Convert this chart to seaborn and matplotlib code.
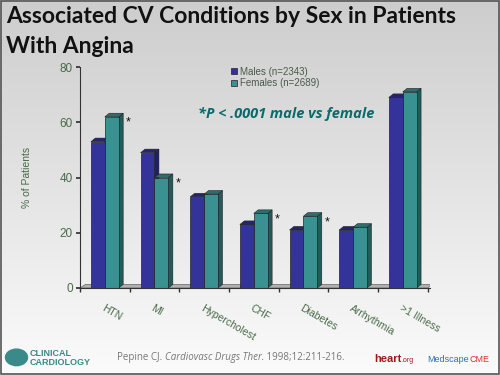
import numpy as np
import pandas as pd
import matplotlib
matplotlib.use("Agg")
import matplotlib.pyplot as plt
from matplotlib.patches import Polygon, Rectangle
from matplotlib.colors import LinearSegmentedColormap
import seaborn as sns

categories = ["HTN", "MI", "Hypercholest", "CHF", "Diabetes", "Arrhythmia", ">1 Illness"]
males = [53, 49, 33, 23, 21, 21, 69]
females = [62, 40, 34, 27, 26, 22, 71]
significant = [True, True, False, True, True, False, False]
series_names = ["Males (n=2343)", "Females (n=2689)"]
yticks = [0, 20, 40, 60, 80]

colors = {"Males (n=2343)": "#333399", "Females (n=2689)": "#3a9191"}
side_colors = ["#1f1f66", "#235a5a"]
top_colors = ["#25256f", "#2c6e6e"]

df = pd.DataFrame({
    "Condition": categories * 2,
    "Sex": [series_names[0]] * len(categories) + [series_names[1]] * len(categories),
    "Percent": males + females,
})

sns.set_theme(style="white")
plt.rcParams["font.family"] = ["Liberation Sans", "DejaVu Sans"]

fig = plt.figure(figsize=(5, 3.75), dpi=100)

# background gradient
bg = fig.add_axes([0, 0, 1, 1], zorder=-10)
grad = np.linspace(0, 1, 256).reshape(-1, 1)
cmap = LinearSegmentedColormap.from_list("g", ["#cdcdcd", "#fbfbfb"])
bg.imshow(grad, aspect="auto", cmap=cmap, extent=[0, 1, 0, 1], origin="upper")
bg.set_xlim(0, 1); bg.set_ylim(0, 1)
bg.axis("off")
bg.add_patch(Rectangle((0.001, 0.002), 0.997, 0.996, fill=False, edgecolor="#555555", lw=1.2,
                       transform=bg.transAxes))

ax = fig.add_axes([0.16, 0.232, 0.70, 0.589])
ax.set_facecolor("none")
sns.barplot(data=df, x="Condition", y="Percent", hue="Sex", palette=colors,
            width=0.56, ax=ax, edgecolor="#222222", linewidth=0.5, saturation=1, legend=True)

dx, dy = 0.09, 1.3
for ci, cont in enumerate(ax.containers):
    for p in cont.patches:
        x0 = p.get_x(); w = p.get_width(); h = p.get_height()
        side = Polygon([[x0 + w, 0], [x0 + w + dx, dy], [x0 + w + dx, h + dy], [x0 + w, h]],
                       closed=True, facecolor=side_colors[ci], edgecolor="#222222", lw=0.4, zorder=p.get_zorder() - 0.1)
        top = Polygon([[x0, h], [x0 + dx, h + dy], [x0 + w + dx, h + dy], [x0 + w, h]],
                      closed=True, facecolor=top_colors[ci], edgecolor="#222222", lw=0.4, zorder=p.get_zorder() - 0.1)
        ax.add_patch(side); ax.add_patch(top)

# floor
n = len(categories)
floor = Polygon([[-0.5, 0], [-0.5 + dx * 1.2, dy], [n - 0.5 + dx * 1.2, dy], [n - 0.5, 0]],
                closed=True, facecolor="#b0b0b0", edgecolor="#666666", lw=0.5, zorder=0.5)
ax.add_patch(floor)

for i, sig in enumerate(significant):
    if sig:
        ax.text(i + 0.47, females[i] - 2.2, "*", fontsize=9, color="#111111", ha="center", va="center")

ax.set_xlim(-0.5, n - 0.5 + 0.05)
ax.set_ylim(0, 80)
ax.set_yticks(yticks)
ax.set_xticks(range(n))
ax.set_xticklabels(categories, rotation=-30, ha="left", va="top", rotation_mode="anchor",
                   fontsize=7.5, color="#4a6a4a")
ax.set_xticks(np.arange(-0.5, n, 1.0), minor=True)
ax.tick_params(axis="x", which="major", length=0, pad=11)
ax.tick_params(axis="x", which="minor", length=3, color="#333333", direction="out", bottom=True)
ax.tick_params(axis="y", length=3, color="#333333", direction="out", left=True, labelsize=8.5,
               labelcolor="#4a6a4a", pad=2)
ax.set_xlabel("")
ax.set_ylabel("% of Patients", fontsize=7.5, color="#4a6a4a", labelpad=20)
for s in ["top", "right"]:
    ax.spines[s].set_visible(False)
ax.spines["left"].set_color("#333333"); ax.spines["left"].set_linewidth(0.8)
ax.spines["bottom"].set_color("#333333"); ax.spines["bottom"].set_linewidth(0.8)

leg = ax.legend(loc="upper left", bbox_to_anchor=(0.42, 1.02), frameon=False, fontsize=7,
                handlelength=0.6, handleheight=0.6, handletextpad=0.3, labelspacing=0.15,
                borderaxespad=0)
for t in leg.get_texts():
    t.set_color("#4a5a4a")

ax.text(0.59, 0.79, "*P < .0001 male vs female", transform=ax.transAxes, fontsize=10.5,
        fontweight="bold", fontstyle="italic", color="#0b6b6b", ha="center", va="center",
        family=["Open Sans", "DejaVu Sans"])

fig.text(0.012, 0.985, "Associated CV Conditions by Sex in Patients\nWith Angina", fontsize=16.5,
         fontweight="bold", color="#111111", ha="left", va="top", linespacing=1.55,
         family=["Lato", "DejaVu Sans"])

fkw = dict(fontsize=7, color="#777777", va="baseline", family=["Open Sans", "DejaVu Sans"])
t1 = fig.text(0.234, 0.04, "Pepine CJ. ", ha="left", **fkw)
t2 = fig.text(0, 0, "Cardiovasc Drugs Ther.", fontstyle="italic", ha="left", **fkw)
t3 = fig.text(0, 0, " 1998;12:211-216.", ha="left", **fkw)
fig.canvas.draw()
r = fig.canvas.get_renderer()
inv = fig.transFigure.inverted()
e1 = t1.get_window_extent(r)
t2.set_position((inv.transform((e1.x1, 0))[0], 0.04))
e2 = t2.get_window_extent(r)
t3.set_position((inv.transform((e2.x1, 0))[0], 0.04))

fig.text(0.06, 0.058, "CLINICAL", fontsize=6.5, fontweight="bold", color="#3a8a8a", ha="left", va="center")
fig.text(0.06, 0.033, "CARDIOLOGY", fontsize=6.5, fontweight="bold", color="#3a8a8a", ha="left", va="center")
bg.add_patch(plt.Circle((0.033, 0.047), 0.022, transform=bg.transAxes, color="#3a8a8a"))

h1 = fig.text(0.748, 0.035, "heart", fontsize=8, fontweight="bold", color="#a01818", ha="left", va="baseline")
h2 = fig.text(0, 0, ".org", fontsize=5, color="#a01818", ha="left", va="baseline")
m1 = fig.text(0.855, 0.035, "Medscape", fontsize=6.5, color="#2a6fbf", ha="left", va="baseline")
m2 = fig.text(0, 0, "CME", fontsize=6.5, color="#e03030", ha="left", va="baseline")
fig.canvas.draw()
eh = h1.get_window_extent(r)
h2.set_position((inv.transform((eh.x1, 0))[0], 0.035))
em = m1.get_window_extent(r)
m2.set_position((inv.transform((em.x1, 0))[0], 0.035))

fig.savefig("out.png", dpi=100)
